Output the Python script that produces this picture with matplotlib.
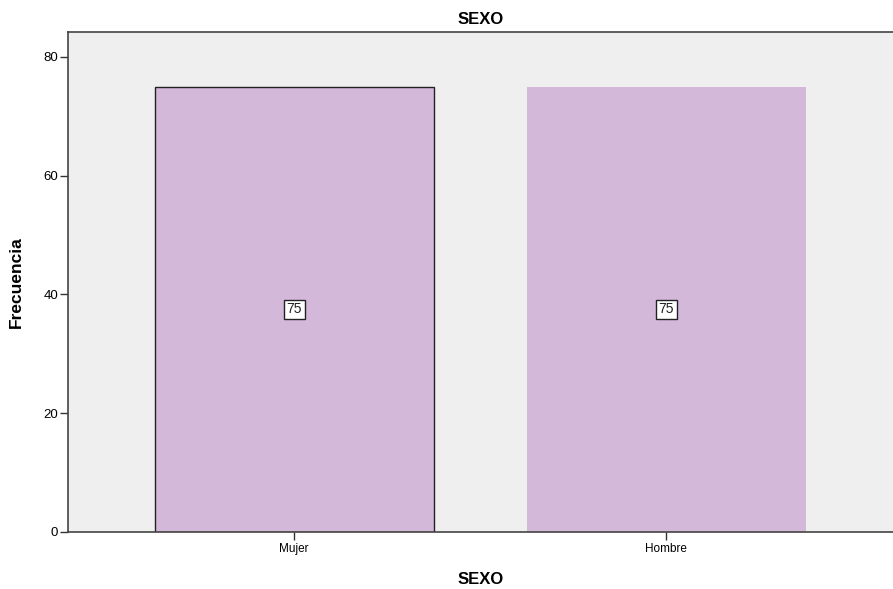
import matplotlib
matplotlib.use("Agg")
import matplotlib.pyplot as plt

plt.rcParams["font.family"] = ["Liberation Sans", "DejaVu Sans"]

categories = ["Mujer", "Hombre"]
counts = [75, 75]
yticks = [0, 20, 40, 60, 80]

fig = plt.figure(figsize=(8.93, 5.89), dpi=100)
ax = fig.add_axes([0.0761, 0.0968, 0.9239, 0.8489])
ax.set_facecolor("#EFEFEF")

x = list(range(len(categories)))
bars = ax.bar(x, counts, width=0.75, color="#D4B8D9", zorder=2)
bars[0].set_edgecolor("#222222")
bars[0].set_linewidth(1.0)

for xi, v in zip(x, counts):
    ax.text(xi, v / 2, str(v), ha="center", va="center", fontsize=10,
            color="#222222", zorder=3,
            bbox=dict(boxstyle="square,pad=0.2", fc="white", ec="#222222", lw=1.0))

ax.set_xlim(-0.608, 1.61)
ax.set_ylim(0, 84.2)
ax.set_xticks(x)
ax.set_xticklabels(categories, fontsize=8.5)
ax.set_yticks(yticks)
ax.tick_params(axis="y", labelsize=9.5, length=6, width=1, color="#333333", pad=1)
ax.tick_params(axis="x", length=6, width=1, color="#333333", pad=2)

for side in ["left", "bottom", "top"]:
    ax.spines[side].set_color("#444444")
    ax.spines[side].set_linewidth(1.2)
ax.spines["right"].set_visible(False)

ax.set_title("SEXO", fontsize=12, fontweight="bold", pad=6)
ax.set_xlabel("SEXO", fontsize=12, fontweight="bold", labelpad=12)
ax.set_ylabel("Frecuencia", fontsize=12.5, fontweight="bold", labelpad=14)

fig.savefig("out.png", dpi=100)
